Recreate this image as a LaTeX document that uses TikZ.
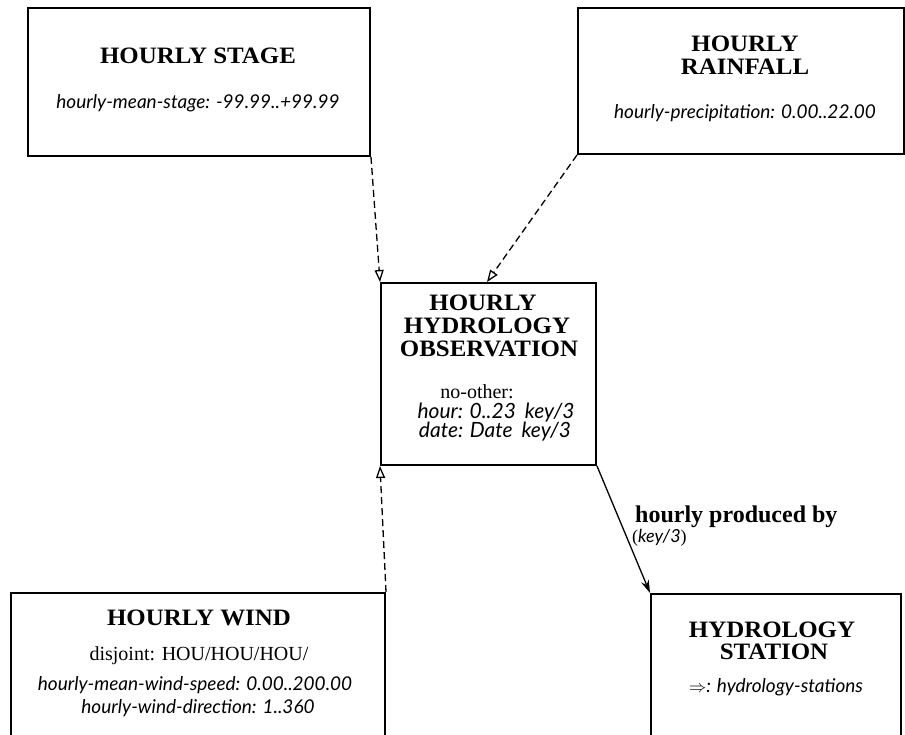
\documentclass[tikz,border=0pt]{standalone}
\usepackage{fontspec}
\setmainfont{Liberation Serif}
\newfontfamily\itf{Lato}
\newfontfamily\ttlf{Liberation Serif}[FakeStretch=1.06]
\usetikzlibrary{arrows.meta}
\tikzset{
  box/.style={draw, line width=2pt, rectangle, anchor=north west, inner sep=0pt},
  ttl/.style={font=\fontsize{23.5}{25}\ttlf\bfseries, anchor=base, inner sep=0pt},
  attr/.style={font=\fontsize{19}{22}\selectfont\itf\itshape, anchor=base, inner sep=0pt},
  plain/.style={font=\fontsize{20}{22}\selectfont, anchor=base, inner sep=0pt},
  dep/.style={dash pattern=on 7pt off 4pt, line width=1.3pt, -{Triangle[open, length=12pt, width=9pt]}},
  rel/.style={line width=1.3pt, -{Stealth[length=13pt, width=8pt]}},
  lbl/.style={font=\fontsize{24}{26}\selectfont\bfseries, anchor=base west, inner sep=0pt}
}
\begin{document}
\begin{tikzpicture}[x=1pt, y=-1pt]
\useasboundingbox (0,0) rectangle (905,734);
% boxes
\node[box, minimum width=342pt, minimum height=148pt] (stage) at (27,7) {};
\node[box, minimum width=326pt, minimum height=146pt] (rain) at (577,7) {};
\node[box, minimum width=215pt, minimum height=182pt] (obs) at (380,282) {};
\node[box, minimum width=374pt, minimum height=170pt] (wind) at (10,592) {};
\node[box, minimum width=250pt, minimum height=170pt] (stat) at (650,593) {};
% stage
\node[ttl] (stageT) at (198,63) {HOURLY STAGE};
\node[attr] (stageA) at (198,108) {hourly-mean-stage: -99.99..+99.99};
% rainfall
\node[ttl] (rainT1) at (745,51) {HOURLY};
\node[ttl] (rainT2) at (745,74) {RAINFALL};
\node[attr] (rainA) at (745,118) {hourly-precipitation: 0.00..22.00};
% observation
\node[ttl] (obsT1) at (483,310) {HOURLY};
\node[ttl] (obsT2) at (487,333) {HYDROLOGY};
\node[ttl] (obsT3) at (489,356) {OBSERVATION};
\node[plain] (obsA1) at (477,398) {no-other:};
\node[attr, font=\fontsize{21}{23}\itf\itshape] (obsA2) at (496,418) {hour: 0..23\hspace{9pt}key/3};
\node[attr, font=\fontsize{21}{23}\itf\itshape] (obsA3) at (495,437) {date: Date\hspace{9pt}key/3};
% wind
\node[ttl] (windT) at (199,625) {HOURLY WIND};
\node[plain] (windA1) at (199,660) {disjoint: HOU/HOU/HOU/};
\node[attr] (windA2) at (195,690) {hourly-mean-wind-speed: 0.00..200.00};
\node[attr] (windA3) at (198,713) {hourly-wind-direction: 1..360};
% station
\node[ttl] (statT1) at (772,637) {HYDROLOGY};
\node[ttl] (statT2) at (774,659) {STATION};
\node[attr] (statA) at (776,692) {$\Rightarrow$: hydrology-stations};
% connectors
\draw[dep] (stage.south east) -- (obs.north west);
\draw[dep] (rain.south west) -- ([xshift=107pt]obs.north west);
\draw[dep] (wind.north east) -- (obs.south west);
\draw[rel] (obs.south east) -- (stat.north west);
\node[lbl] (relL) at (635,522) {hourly produced by};
\node[anchor=base west, inner sep=0pt, font=\fontsize{18}{20}\selectfont] (relK) at (632,542) {({\itf\itshape key/3})};
\end{tikzpicture}
\end{document}
